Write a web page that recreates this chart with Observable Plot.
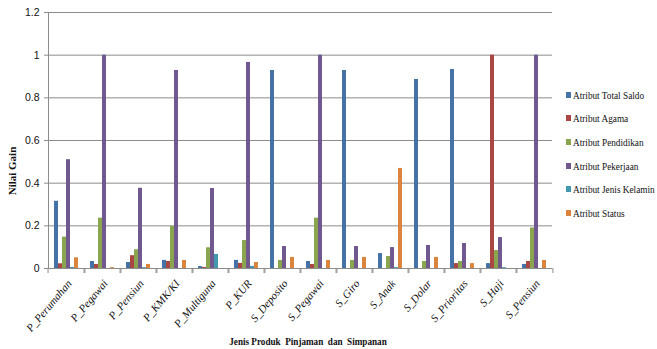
<!DOCTYPE html>
<html><head><meta charset="utf-8">
<script src="https://cdn.jsdelivr.net/npm/d3@7"></script>
<script src="https://cdn.jsdelivr.net/npm/@observablehq/plot@0.6"></script>
<style>
body{margin:0;background:#fff;}
#wrap{position:relative;width:657px;height:349px;overflow:hidden;}
#legend{position:absolute;left:566px;top:83px;font-family:"Liberation Serif",serif;font-size:11px;color:#111;}
.item{height:23.6px;display:flex;align-items:center;white-space:nowrap;}
.sw{width:5px;height:6px;margin-right:2px;flex:none;}
.lt{display:inline-block;transform:scaleX(0.84);transform-origin:left center;}
#ytitle{position:absolute;left:12px;top:171px;font-family:"Liberation Serif",serif;font-weight:bold;font-size:11px;color:#111;transform:translate(-50%,-50%) rotate(-90deg);white-space:nowrap;}
#xtitle{position:absolute;left:308px;top:341px;font-family:"Liberation Serif",serif;font-weight:bold;font-size:10.5px;color:#111;transform:translate(-50%,-50%) scaleX(0.87);white-space:pre;}
</style></head><body><div id="wrap"></div>
<script>
const categories = ["P_Perumahan","P_Pegawai","P_Pensiun","P_KMK/KI","P_Multiguna","P_KUR","S_Deposito","S_Pegawai","S_Giro","S_Anak","S_Dolar","S_Prioritas","S_Haji","S_Pensiun"];
const series = ["Atribut Total Saldo","Atribut Agama","Atribut Pendidikan","Atribut Pekerjaan","Atribut Jenis Kelamin","Atribut Status"];
const totalSaldo   = [0.315,0.033,0.028,0.038,0.009,0.038,0.928,0.033,0.928,0.070,0.886,0.933,0.023,0.019];
const agama        = [0.022,0.019,0.060,0.033,0.005,0.024,0,    0.019,0,    0,    0,    0.023,1.000,0.033];
const pendidikan   = [0.147,0.236,0.088,0.197,0.097,0.131,0.038,0.236,0.038,0.056,0.033,0.033,0.084,0.190];
const pekerjaan    = [0.510,1.000,0.376,0.928,0.375,0.966,0.103,1.000,0.103,0.098,0.108,0.117,0.145,1.000];
const jenisKelamin = [0.005,0,    0.004,0,    0.066,0.010,0,    0,    0,    0.004,0,    0,    0.004,0];
const status       = [0.050,0.004,0.019,0.038,0,    0.028,0.052,0.038,0.052,0.469,0.052,0.023,0,    0.038];
const colors = ["#4573A7","#AA4643","#89A54E","#71588F","#4198AF","#DB843D"];
const yTicks = [0,0.2,0.4,0.6,0.8,1,1.2];
const xTitle = "Jenis Produk  Pinjaman  dan  Simpanan";
const yTitle = "Nilai Gain";

const seriesValues = [totalSaldo, agama, pendidikan, pekerjaan, jenisKelamin, status];
const rows = categories.flatMap((c, i) => series.map((s, j) => ({category: c, series: s, value: seriesValues[j][i]})));

const W = 657, H = 349, ML = 42, MR = 99, MT = 12, MB = 81;
const step = (W - ML - MR) / categories.length;
const grid = "#8c8c8c";

const plot = Plot.plot({
  width: W, height: H,
  marginLeft: ML, marginRight: MR, marginTop: MT, marginBottom: MB,
  style: {fontFamily: "Liberation Sans, sans-serif", fontSize: "10px", color: "#111", background: "#fff"},
  fx: {domain: categories, padding: 0, label: null, axis: null},
  x: {domain: series, paddingInner: 0, paddingOuter: 0.69, axis: null},
  y: {domain: [0, 1.2], label: null, axis: null},
  color: {domain: series, range: colors},
  marks: [
    Plot.gridY(yTicks.slice(1), {stroke: grid, strokeOpacity: 1, strokeWidth: 1}),
    Plot.ruleY([0], {stroke: grid}),
    Plot.axisY(yTicks, {tickSize: 4, tickPadding: 5, stroke: grid, fill: "#111", tickFormat: d => String(d), label: null, fontSize: 10.5}),
    Plot.frame({anchor: "left", facetAnchor: "left", stroke: grid}),
    Plot.barY(rows, {fx: "category", x: "series", y: "value", fill: "series", insetLeft: 0, insetRight: 0}),
    Plot.axisFx({anchor: "bottom", tickSize: 5, stroke: grid, tickFormat: () => "", dx: -step / 2, label: null}),
    Plot.axisFx([categories[categories.length - 1]], {anchor: "bottom", tickSize: 5, stroke: grid, tickFormat: () => "", dx: step / 2, label: null}),
    Plot.axisFx({anchor: "bottom", tickSize: 0, tickPadding: 13, dx: 3, tickRotate: -50, label: null, fontFamily: "Liberation Serif, serif", fontStyle: "italic", fontSize: 11, fill: "#111"})
  ]
});

const wrap = document.getElementById("wrap");
wrap.appendChild(plot);

const legend = document.createElement("div");
legend.id = "legend";
series.forEach((s, j) => {
  const it = document.createElement("div");
  it.className = "item";
  const sw = document.createElement("span");
  sw.className = "sw"; sw.style.background = colors[j];
  const t = document.createElement("span");
  t.className = "lt"; t.textContent = s;
  it.appendChild(sw); it.appendChild(t);
  legend.appendChild(it);
});
wrap.appendChild(legend);

const yt = document.createElement("div"); yt.id = "ytitle"; yt.textContent = yTitle; wrap.appendChild(yt);
const xt = document.createElement("div"); xt.id = "xtitle"; xt.textContent = xTitle; wrap.appendChild(xt);
</script></body></html>
